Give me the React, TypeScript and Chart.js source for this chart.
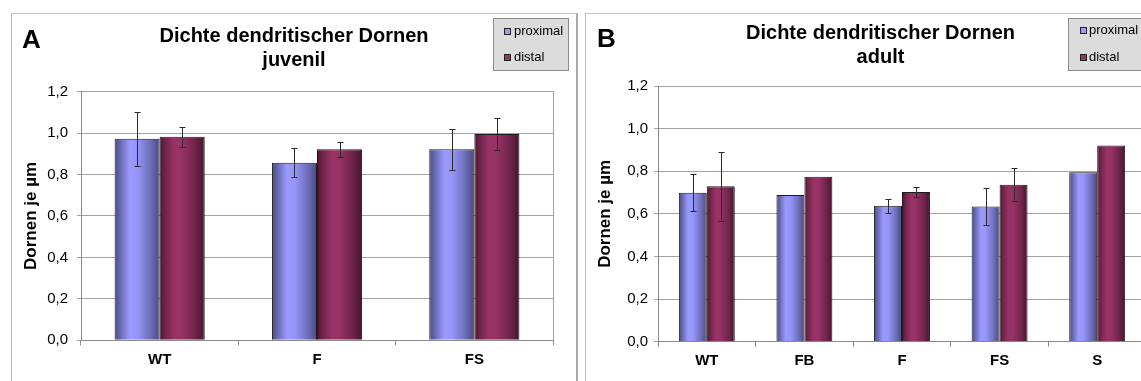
import React, { useEffect, useRef } from 'react';
import { Chart, registerables } from 'chart.js';

Chart.register(...registerables);

// ---------- data ----------
const seriesNames = ['proximal', 'distal'];
const yTickValues = [0, 0.2, 0.4, 0.6, 0.8, 1.0, 1.2];
const yAxisTitle = 'Dornen je µm';

const titleA = ['Dichte dendritischer Dornen', 'juvenil'];
const categoriesA = ['WT', 'F', 'FS'];
const proximalA = [0.973, 0.857, 0.922];
const distalA = [0.982, 0.922, 0.996];
const proximalErrA = [0.13, 0.07, 0.098];
const distalErrA = [0.047, 0.036, 0.077];

const titleB = ['Dichte dendritischer Dornen', 'adult'];
const categoriesB = ['WT', 'FB', 'F', 'FS', 'S'];
const proximalB = [0.699, 0.688, 0.638, 0.635, 0.795];
const distalB = [0.729, 0.774, 0.702, 0.737, 0.921];
const proximalErrB = [0.087, 0, 0.034, 0.088, 0];
const distalErrB = [0.163, 0, 0.023, 0.078, 0];

// ---------- styles ----------
const FONT = '"Liberation Sans", Arial, sans-serif';
const GRID = '#a3a3a3';
const AXIS = '#8a8a8a';
const CAT_PCT = 0.573;
const PROX_COLOR = '#9999ff';
const DIST_COLOR = '#993366';
const PROX_STOPS: [number, string][] = [
  [0, '#4a4b7c'], [0.12, '#6668ad'], [0.33, '#9999ff'], [0.5, '#9696fa'], [0.78, '#7070bd'], [1, '#4a4a7e'],
];
const DIST_STOPS: [number, string][] = [
  [0, '#4c1630'], [0.12, '#6e2449'], [0.33, '#993366'], [0.5, '#963264'], [0.78, '#70254b'], [1, '#48142e'],
];

Chart.defaults.font.family = FONT;
Chart.defaults.color = '#000';

function gradientFill(stops: [number, string][]) {
  return (c: any) => {
    const chart = c.chart;
    const xs = chart.scales && chart.scales.x;
    if (!xs || c.dataIndex === undefined || !isFinite(xs.width)) return stops[2][1];
    const n = chart.data.labels.length;
    const catW = xs.width / n;
    const groupW = catW * CAT_PCT;
    const barW = groupW / 2;
    const center = xs.getPixelForValue(c.dataIndex);
    const left = center - groupW / 2 + c.datasetIndex * barW;
    const g = chart.ctx.createLinearGradient(left, 0, left + barW, 0);
    stops.forEach(([o, col]) => g.addColorStop(o, col));
    return g;
  };
}

const errorBarPlugin = {
  id: 'errorBars',
  afterDatasetsDraw(chart: any) {
    const ctx = chart.ctx;
    const ys = chart.scales.y;
    chart.data.datasets.forEach((ds: any, di: number) => {
      const meta = chart.getDatasetMeta(di);
      const errs = ds.errors || [];
      meta.data.forEach((bar: any, i: number) => {
        const e = errs[i];
        if (!e) return;
        const v = ds.data[i];
        const x = Math.round(bar.x) + 0.5;
        const yt = Math.round(ys.getPixelForValue(v + e)) + 0.5;
        const yb = Math.round(ys.getPixelForValue(v - e)) + 0.5;
        ctx.save();
        ctx.strokeStyle = '#2a2a2a';
        ctx.lineWidth = 1;
        ctx.beginPath();
        ctx.moveTo(x, yt); ctx.lineTo(x, yb);
        ctx.moveTo(x - 3, yt); ctx.lineTo(x + 3, yt);
        ctx.moveTo(x - 3, yb); ctx.lineTo(x + 3, yb);
        ctx.stroke();
        ctx.restore();
      });
    });
  },
};

const decorPlugin = {
  id: 'decor',
  afterDraw(chart: any, _args: any, o: any) {
    const ctx = chart.ctx;
    ctx.save();
    ctx.fillStyle = '#000';
    ctx.font = `bold 26px ${FONT}`;
    ctx.textBaseline = 'alphabetic';
    ctx.textAlign = 'left';
    ctx.fillText(o.letter, o.letterX, o.letterY);
    // legend box
    ctx.fillStyle = '#dcdcdc';
    ctx.fillRect(o.legX, o.legY, o.legW, o.legH);
    ctx.strokeStyle = '#8c8c8c';
    ctx.lineWidth = 1;
    ctx.strokeRect(o.legX + 0.5, o.legY + 0.5, o.legW - 1, o.legH - 1);
    chart.data.datasets.forEach((ds: any, i: number) => {
      const cy = o.legY + o.item0 + i * o.itemGap;
      ctx.fillStyle = ds.legendColor;
      ctx.fillRect(o.legX + o.sqOff, Math.round(cy - 3.5), 7, 7);
      ctx.strokeStyle = '#222';
      ctx.strokeRect(o.legX + o.sqOff + 0.5, Math.round(cy - 3.5) + 0.5, 6, 6);
      ctx.fillStyle = '#000';
      ctx.font = `13px ${FONT}`;
      ctx.textBaseline = 'middle';
      ctx.fillText(ds.label, o.legX + o.textOff, cy);
    });
    ctx.restore();
  },
};

interface PanelCfg {
  left: number; top: number; W: number; H: number;
  title: string[]; categories: string[];
  prox: number[]; dist: number[]; proxErr: number[]; distErr: number[];
  yAxisW: number; rightW: number; xAxisH: number;
  titlePadTop: number; titlePadBottom: number;
  yTickPad: number; yTitlePad: number; xTickPad: number;
  decor: any;
}

const panelA: PanelCfg = {
  left: 11, top: 13, W: 564, H: 367,
  title: titleA, categories: categoriesA,
  prox: proximalA, dist: distalA, proxErr: proximalErrA, distErr: distalErrA,
  yAxisW: 69, rightW: 23, xAxisH: 40.7,
  titlePadTop: 10, titlePadBottom: 19,
  yTickPad: 9, yTitlePad: 9.5, xTickPad: 6,
  decor: { letter: 'A', letterX: 10, letterY: 34, legX: 481, legY: 4, legW: 76, legH: 53, item0: 13.5, itemGap: 26, sqOff: 11, textOff: 21 },
};

const panelB: PanelCfg = {
  left: 585, top: 13, W: 589, H: 367,
  title: titleB, categories: categoriesB,
  prox: proximalB, dist: distalB, proxErr: proximalErrB, distErr: distalErrB,
  yAxisW: 72, rightW: 29, xAxisH: 39.3,
  titlePadTop: 7, titlePadBottom: 16.4,
  yTickPad: 6, yTitlePad: 9.3, xTickPad: 5,
  decor: { letter: 'B', letterX: 11, letterY: 33, legX: 482, legY: 4, legW: 78, legH: 53, item0: 12.5, itemGap: 27, sqOff: 12, textOff: 21 },
};

function buildConfig(cfg: PanelCfg): any {
  return {
    type: 'bar',
    data: {
      labels: cfg.categories,
      datasets: [
        {
          label: seriesNames[0], data: cfg.prox, errors: cfg.proxErr, legendColor: PROX_COLOR,
          backgroundColor: gradientFill(PROX_STOPS), borderColor: '#1c1c1c', borderWidth: 1,
          categoryPercentage: CAT_PCT, barPercentage: 1,
        },
        {
          label: seriesNames[1], data: cfg.dist, errors: cfg.distErr, legendColor: DIST_COLOR,
          backgroundColor: gradientFill(DIST_STOPS), borderColor: '#1c1c1c', borderWidth: 1,
          categoryPercentage: CAT_PCT, barPercentage: 1,
        },
      ],
    },
    options: {
      responsive: false,
      animation: false,
      devicePixelRatio: 1,
      layout: { padding: 0 },
      plugins: {
        legend: { display: false },
        tooltip: { enabled: false },
        title: {
          display: true, text: cfg.title, color: '#000',
          font: { family: FONT, size: 20, weight: 'bold', lineHeight: 1.215 },
          padding: { top: cfg.titlePadTop, bottom: cfg.titlePadBottom },
        },
        decor: cfg.decor,
      },
      scales: {
        x: {
          grid: { display: true, drawOnChartArea: false, drawTicks: true, tickLength: 5, color: AXIS, offset: true },
          border: { display: true, color: AXIS },
          ticks: { font: { family: FONT, size: 15, weight: 'bold' }, color: '#000', padding: cfg.xTickPad, maxRotation: 0 },
          afterFit: (s: any) => { s.height = cfg.xAxisH; },
        },
        y: {
          min: 0, max: 1.2,
          afterBuildTicks: (s: any) => { s.ticks = yTickValues.map((v) => ({ value: v })); },
          grid: { color: GRID, tickLength: 4, drawTicks: true },
          border: { display: true, color: AXIS },
          ticks: {
            font: { family: FONT, size: 15 }, color: '#000', padding: cfg.yTickPad,
            callback: (v: any) => Number(v).toFixed(1).replace('.', ','),
          },
          title: {
            display: true, text: yAxisTitle, color: '#000',
            font: { family: FONT, size: 17, weight: 'bold', lineHeight: 1.2 },
            padding: { top: cfg.yTitlePad, bottom: 0 },
          },
          afterFit: (s: any) => { s.width = cfg.yAxisW; },
        },
        y2: {
          position: 'right', display: true,
          grid: { display: false },
          ticks: { display: false },
          border: { display: true, color: GRID },
          afterFit: (s: any) => { s.width = cfg.rightW; },
        },
      },
    },
    plugins: [errorBarPlugin, decorPlugin],
  };
}

function Panel({ cfg, rightBorder }: { cfg: PanelCfg; rightBorder: string }) {
  const ref = useRef<HTMLCanvasElement | null>(null);
  useEffect(() => {
    if (!ref.current) return;
    const chart = new Chart(ref.current, buildConfig(cfg));
    return () => chart.destroy();
  }, [cfg]);
  return (
    <div
      style={{
        position: 'absolute', left: cfg.left, top: cfg.top, width: cfg.W, height: cfg.H,
        borderLeft: '1px solid #bcbcbc', borderTop: '1px solid #c4c4c4', borderRight: rightBorder,
        background: '#fff',
      }}
    >
      <canvas ref={ref} width={cfg.W} height={cfg.H} style={{ display: 'block' }} />
    </div>
  );
}

export default function App() {
  return (
    <div style={{ position: 'absolute', left: 0, top: 0, width: 1141, height: 381, overflow: 'hidden', background: '#fff' }}>
      <Panel cfg={panelA} rightBorder="2px solid #a8a8a8" />
      <Panel cfg={panelB} rightBorder="1px solid #bcbcbc" />
    </div>
  );
}
